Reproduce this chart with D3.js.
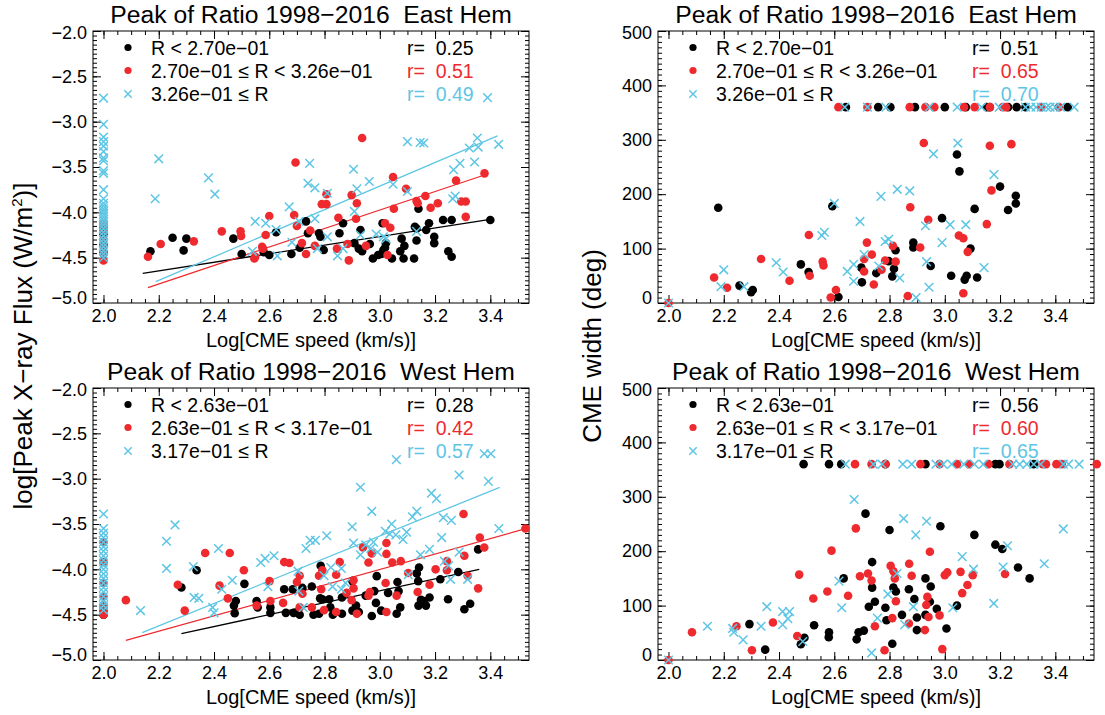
<!DOCTYPE html>
<html>
<head>
<meta charset="utf-8">
<script src="https://cdn.jsdelivr.net/npm/d3@7"></script>
<style>
  body { margin: 0; background: #fff; }
  text { font-family: "Liberation Sans", Arial, sans-serif; }
</style>
</head>
<body>
<div id="chart"></div>
<script>
// ---- data ----
var xTicks = [2.0, 2.2, 2.4, 2.6, 2.8, 3.0, 3.2, 3.4];
var fluxTicks = [-5.0, -4.5, -4.0, -3.5, -3.0, -2.5, -2.0];
var widthTicks = [0, 100, 200, 300, 400, 500];

var titles = ["Peak of Ratio 1998\u22122016  East Hem", "Peak of Ratio 1998\u22122016  West Hem"];
var eastLegend = ["R < 2.70e\u221201", "2.70e\u221201 \u2264 R < 3.26e\u221201", "3.26e\u221201 \u2264 R"];
var westLegend = ["R < 2.63e\u221201", "2.63e\u221201 \u2264 R < 3.17e\u221201", "3.17e\u221201 \u2264 R"];
var eastFluxR = ["0.25", "0.51", "0.49"];
var eastWidthR = ["0.51", "0.65", "0.70"];
var westFluxR = ["0.28", "0.42", "0.57"];
var westWidthR = ["0.56", "0.60", "0.65"];

// East hemisphere: log speed vs log peak flux
var eastFluxLow = [[2.0,-4.15],[2.0,-4.25],[2.0,-4.35],[2.0,-4.45],
  [2.17,-4.43],[2.25,-4.28],[2.29,-4.42],[2.30,-4.29],[2.47,-4.29],[2.50,-4.46],[2.58,-4.44],[2.60,-4.47],
  [2.625,-4.22],[2.68,-4.46],[2.71,-4.39],[2.733,-4.10],[2.74,-4.23],[2.78,-4.23],[2.785,-4.27],[2.797,-4.415],
  [2.854,-4.23],[2.867,-4.12],[2.908,-4.34],[2.924,-4.40],[2.93,-4.195],[2.936,-4.43],[2.964,-4.35],[2.975,-4.51],
  [2.994,-4.47],[3.006,-4.46],[3.013,-4.415],[3.019,-4.39],[3.022,-4.34],[3.01,-4.12],[3.044,-4.51],[3.074,-4.43],
  [3.079,-4.29],[3.089,-4.37],[3.086,-4.51],[3.124,-4.51],[3.133,-4.18],[3.133,-4.31],[3.14,-3.96],[3.127,-4.16],
  [3.168,-4.195],[3.178,-4.12],[3.197,-4.27],[3.197,-4.34],[3.229,-4.085],[3.248,-4.43],[3.26,-4.49],[3.26,-4.085],
  [3.40,-4.085]];
var eastFluxMid = [[2.0,-4.12],[2.0,-4.2],[2.0,-4.3],[2.0,-4.38],[2.0,-4.45],[2.0,-4.53],
  [2.161,-4.49],[2.207,-4.35],[2.327,-4.32],[2.428,-4.21],[2.496,-4.21],[2.498,-4.26],[2.549,-4.49],[2.546,-4.51],
  [2.574,-4.38],[2.577,-4.40],[2.587,-4.25],[2.60,-4.04],[2.69,-4.03],[2.70,-4.15],[2.718,-4.34],[2.733,-4.46],
  [2.748,-4.20],[2.765,-4.37],[2.79,-3.91],[2.807,-3.91],[2.807,-3.80],[2.845,-4.40],[2.85,-4.06],[2.883,-4.35],
  [2.888,-4.53],[2.898,-3.81],[2.917,-3.90],[2.914,-4.07],[2.95,-4.37],[3.019,-4.12],[3.028,-4.47],[3.048,-3.61],
  [3.051,-3.96],[3.038,-4.17],[3.095,-3.74],[3.133,-3.875],[3.137,-3.90],[3.165,-3.82],[3.184,-3.95],[3.21,-3.90],
  [3.276,-3.65],[3.295,-3.88],[3.311,-3.88],[3.311,-4.05],[3.379,-3.57],[2.695,-3.45],[2.936,-3.18]];
var eastFluxHigh = [[2.0,-2.74],[2.0,-3.03],[2.0,-3.17],[2.0,-3.22],[2.0,-3.27],[2.0,-3.33],[2.0,-3.40],[2.0,-3.43],
  [2.0,-3.54],[2.0,-3.57],[2.0,-3.75],[2.0,-3.85],[2.0,-3.90],[2.0,-3.93],[2.0,-3.96],[2.0,-3.99],[2.0,-4.02],
  [2.0,-4.05],[2.0,-4.08],[2.0,-4.11],[2.0,-4.14],[2.0,-4.18],[2.0,-4.22],[2.0,-4.26],[2.0,-4.30],[2.0,-4.34],
  [2.0,-4.38],[2.0,-4.42],[2.0,-4.46],[2.0,-4.50],
  [2.20,-3.41],[2.38,-3.62],[2.746,-3.46],[2.905,-3.525],[3.10,-3.22],[3.146,-3.23],[3.159,-3.235],[3.267,-3.53],
  [3.29,-3.46],[3.324,-3.29],[3.353,-3.18],[3.356,-3.28],[3.343,-3.445],[3.39,-2.735],[3.43,-3.25],[2.187,-3.85],
  [2.403,-3.80],[2.549,-4.10],[2.539,-4.43],[2.587,-4.12],[2.625,-4.19],[2.629,-4.48],[2.672,-3.94],[2.682,-4.33],
  [2.708,-4.10],[2.74,-3.68],[2.765,-3.73],[2.765,-4.07],[2.774,-4.40],[2.81,-3.79],[2.81,-4.27],[2.847,-4.48],
  [2.867,-4.40],[2.908,-3.99],[2.917,-3.74],[2.93,-4.25],[2.962,-3.66],[2.987,-4.24],[3.013,-4.27],[3.023,-4.29],
  [3.048,-3.69],[3.10,-3.77],[3.133,-4.21],[3.264,-3.85],[3.273,-3.82]];
// fitted lines: [x1, y1, x2, y2] for low, mid, high
var eastFluxFits = [[2.142,-4.673,3.40,-4.077],[2.161,-4.83,3.387,-3.58],[2.189,-4.765,3.426,-3.156]];

// East hemisphere: log speed vs CME width
var eastWidthLow = [[2.642,360],[2.759,360],[2.803,360],[2.892,360],[3.0,360],[3.076,360],[3.152,360],[3.163,360],
  [3.229,360],[3.26,360],[3.292,360],[3.445,360],
  [3.044,273],[3.053,242],[2.18,175],[2.593,178],[3.20,214],[3.257,197],[3.257,183],[3.229,171],[3.108,173],
  [2.99,156],[2.886,102],[2.886,111],[2.822,97],[2.797,77],[2.816,63],[2.81,49],[2.752,55],[2.698,65],[2.70,38],
  [2.615,11],[2.479,71],[2.507,57],[2.257,32],[2.299,20],[2.305,24],[2.949,68],[3.023,50],[3.072,43],[3.079,50],
  [3.117,47],[3.093,100]];
var eastWidthMid = [[2.615,360],[2.72,360],[2.873,360],[2.93,360],[2.962,360],[3.07,360],[3.108,360],[3.163,360],
  [3.21,360],[3.222,360],[3.349,360],[3.413,360],
  [2.924,294],[3.163,289],[3.241,292],[2.0,0],[2.165,47],[2.212,28],[2.335,81],[2.438,41],[2.508,125],[2.511,50],
  [2.558,76],[2.561,69],[2.587,10],[2.606,24],[2.708,81],[2.708,58],[2.736,89],[2.718,111],[2.743,34],[2.771,61],
  [2.784,78],[2.812,105],[2.822,76],[2.866,13],[2.875,176],[2.911,102],[2.94,153],[3.051,124],[3.067,119],
  [3.067,18],[3.083,94],[3.152,145],[3.169,207]];
var eastWidthHigh = [[2.638,360],[2.72,360],[2.787,360],[2.943,360],[3.045,360],[3.133,360],[3.197,360],[3.292,360],
  [3.311,360],[3.33,360],[3.349,360],[3.368,360],[3.381,360],[3.40,360],[3.419,360],[3.468,360],
  [2.959,274],[3.047,294],[3.178,236],[2.0,0],[2.20,61],[2.19,30],[2.273,30],[2.39,74],[2.415,57],[2.555,124],
  [2.564,130],[2.60,183],[2.647,58],[2.67,71],[2.67,40],[2.693,150],[2.708,89],[2.769,196],[2.761,68],[2.784,113],
  [2.797,117],[2.828,209],[2.837,46],[2.873,206],[2.896,10],[2.93,142],[2.934,76],[2.943,29],[2.99,111],
  [3.019,144],[3.076,144],[3.142,65]];

// West hemisphere: log speed vs log peak flux
var westFluxLow = [[2.0,-4.4],[2.0,-4.45],[2.0,-4.5],
  [2.282,-4.20],[2.337,-4.01],[2.479,-4.35],[2.472,-4.40],[2.475,-4.485],[2.51,-4.16],[2.554,-4.35],[2.558,-4.42],
  [2.604,-4.42],[2.604,-4.48],[2.654,-4.22],[2.66,-4.48],[2.685,-4.22],[2.688,-4.48],[2.71,-4.50],[2.72,-4.205],
  [2.754,-4.19],[2.76,-4.50],[2.78,-4.49],[2.784,-4.32],[2.786,-3.96],[2.792,-4.33],[2.817,-4.33],[2.821,-4.42],
  [2.83,-4.50],[2.863,-4.31],[2.863,-4.49],[2.901,-4.13],[2.901,-4.455],[2.914,-4.40],[2.924,-4.47],[2.949,-4.29],
  [2.971,-4.515],[2.98,-4.24],[2.989,-4.075],[2.986,-4.37],[3.005,-4.455],[3.03,-4.26],[3.064,-4.14],[3.068,-4.24],
  [3.061,-4.49],[3.074,-4.42],[3.134,-4.045],[3.142,-3.98],[3.139,-4.13],[3.14,-4.40],[3.149,-4.335],[3.159,-4.35],
  [3.167,-4.40],[3.18,-4.31],[3.219,-4.11],[3.247,-4.33],[3.284,-4.03],[3.306,-4.44],[3.327,-4.38],[3.356,-3.78]];
var westFluxMid = [[2.0,-3.7],[2.0,-3.92],[2.0,-4.15],[2.0,-4.3],[2.0,-4.4],[2.0,-4.45],[2.0,-4.5],
  [2.081,-4.34],[2.269,-4.17],[2.294,-4.455],[2.368,-3.82],[2.457,-3.82],[2.45,-4.32],[2.42,-4.18],[2.508,-4.01],
  [2.554,-4.40],[2.604,-4.35],[2.601,-4.13],[2.65,-4.37],[2.654,-3.92],[2.673,-3.93],[2.70,-4.14],[2.71,-4.07],
  [2.71,-4.42],[2.72,-4.27],[2.754,-4.42],[2.78,-4.07],[2.788,-4.22],[2.792,-4.01],[2.798,-4.45],[2.842,-4.47],
  [2.842,-4.06],[2.855,-3.92],[2.88,-4.26],[2.898,-4.34],[2.905,-4.12],[2.905,-4.21],[2.917,-4.49],[2.939,-3.76],
  [2.959,-4.29],[2.964,-4.25],[2.959,-3.925],[2.971,-3.825],[3.024,-3.71],[3.024,-3.83],[3.021,-4.15],[3.024,-4.47],
  [3.045,-3.925],[3.061,-4.29],[3.076,-3.91],[3.103,-4.04],[3.137,-4.25],[3.18,-4.17],[3.202,-4.0],[3.243,-3.91],
  [3.243,-4.01],[3.306,-3.85],[3.318,-4.07],[3.356,-4.21],[3.362,-3.65],[3.378,-3.76],[3.527,-3.55],[3.303,-3.39]];
var westFluxHigh = [[2.0,-3.39],[2.0,-3.55],[2.0,-3.6],[2.0,-3.65],[2.0,-3.7],[2.0,-3.75],[2.0,-3.8],[2.0,-3.85],
  [2.0,-3.9],[2.0,-3.95],[2.0,-4.0],[2.0,-4.05],[2.0,-4.1],[2.0,-4.15],[2.0,-4.2],[2.0,-4.25],[2.0,-4.3],[2.0,-4.35],
  [2.0,-4.4],[2.0,-4.45],
  [2.259,-3.51],[2.93,-3.095],[2.971,-3.36],[2.90,-3.53],[3.06,-2.79],[3.043,-3.50],[3.118,-3.42],[3.134,-3.36],
  [3.187,-3.16],[3.205,-3.22],[3.23,-3.43],[3.259,-3.46],[3.287,-2.96],[3.378,-2.725],[3.402,-2.725],[3.393,-3.03],
  [3.431,-3.55],[3.02,-3.58],[2.228,-3.69],[2.228,-3.99],[2.134,-4.455],[2.325,-3.97],[2.328,-4.31],[2.345,-4.32],
  [2.395,-4.42],[2.40,-4.48],[2.416,-3.77],[2.428,-4.22],[2.466,-4.12],[2.569,-3.925],[2.585,-3.88],[2.617,-3.85],
  [2.595,-4.19],[2.704,-4.02],[2.707,-4.24],[2.723,-4.42],[2.733,-3.77],[2.748,-3.68],[2.767,-3.68],[2.808,-3.63],
  [2.798,-4.07],[2.823,-3.98],[2.829,-4.19],[2.861,-3.99],[2.876,-4.15],[2.861,-4.22],[2.905,-3.71],[2.93,-3.84],
  [2.949,-3.73],[2.967,-3.77],[2.977,-3.70],[2.992,-3.81],[3.036,-3.61],[3.058,-3.62],[3.084,-3.67],[3.097,-3.59],
  [3.103,-4.06],[3.147,-3.84],[3.18,-3.78],[3.224,-3.65],[3.234,-3.91],[3.249,-3.96],[3.256,-4.11],[3.287,-3.81],
  [3.318,-4.11]];
var westFluxFits = [[2.282,-4.709,3.36,-4.0],[2.081,-4.784,3.528,-3.552],[2.14,-4.698,3.434,-3.095]];

// West hemisphere: log speed vs CME width
var westWidthLow = [[2.489,360],[2.581,360],[2.625,360],[2.785,360],[2.93,360],[3.183,360],[3.198,360],[3.322,360],
  [2.713,269],[2.80,239],[2.984,246],[3.107,230],[2.293,66],[2.35,19],[2.479,29],[2.492,41],[2.527,64],[2.58,42],
  [2.581,51],[2.634,150],[2.681,38],[2.688,51],[2.707,54],[2.725,98],[2.737,180],[2.737,133],[2.747,107],[2.785,96],
  [2.789,73],[2.81,30],[2.814,133],[2.823,126],[2.845,83],[2.87,130],[2.89,112],[2.899,78],[2.899,55],[2.93,83],
  [2.93,150],[2.946,107],[2.949,135],[2.971,94],[3.006,58],[3.044,100],[3.183,212],[3.208,204],[3.265,170],
  [3.307,150]];
var westWidthMid = [[2.675,360],[2.735,360],[2.785,360],[2.912,360],[2.981,360],[3.044,360],[3.088,360],[3.158,360],
  [3.234,360],[3.354,360],[3.366,360],[3.404,360],[3.423,360],[3.55,360],
  [2.678,242],[2.0,0],[2.085,51],[2.246,62],[2.302,18],[2.378,69],[2.466,44],[2.473,157],[2.524,113],[2.575,126],
  [2.59,201],[2.65,118],[2.693,154],[2.722,159],[2.735,146],[2.747,62],[2.782,18],[2.804,173],[2.814,163],
  [2.819,150],[2.823,108],[2.81,77],[2.87,67],[2.871,177],[2.88,155],[2.928,55],[2.937,116],[2.933,101],[2.941,79],
  [2.946,199],[2.981,82],[2.991,20],[3.0,156],[3.009,161],[3.057,162],[3.063,123],[3.082,138],[3.101,156],
  [3.218,158]];
var westWidthHigh = [[2.64,360],[2.741,360],[2.773,360],[2.848,360],[2.88,360],[2.968,360],[2.994,360],[3.025,360],
  [3.069,360],[3.107,360],[3.139,360],[3.246,360],[3.271,360],[3.297,360],[3.322,360],[3.347,360],[3.429,360],
  [3.448,360],[3.486,360],
  [2.672,295],[2.851,260],[2.934,255],[2.895,230],[3.429,241],[2.0,0],[2.141,62],[2.232,58],[2.236,51],[2.27,37],
  [2.335,62],[2.356,98],[2.413,65],[2.413,89],[2.432,76],[2.438,89],[2.486,34],[2.617,145],[2.627,96],[2.735,13],
  [2.756,77],[2.794,121],[2.827,159],[2.855,65],[2.886,98],[3.029,96],[3.063,190],[3.104,167],[3.177,104],
  [3.211,171],[3.227,210],[3.36,177]];

// ---- layout ----
var W = 1105, H = 715;
var pw = 436, ph = 272;
var xRange = [1.962, 3.54];
var colors = ["#000000", "#ee2a2e", "#5ec6e4"];
var font = "Liberation Sans, Arial, sans-serif";

var svg = d3.select("#chart").append("svg")
    .attr("width", W)
    .attr("height", H);

var fluxMinor = d3.range(-100, -39).map(function(d) { return d / 20; });
var widthMinor = d3.range(0, 501, 10);

var panels = [
  {left: 93, top: 31, yRange: [-5.0, -2.0], yTicks: fluxTicks, yMinor: fluxMinor,
   fmt: d3.format(".1f"), title: titles[0], legend: eastLegend, r: eastFluxR,
   series: [eastFluxLow, eastFluxMid, eastFluxHigh], fits: eastFluxFits},
  {left: 658, top: 31, yRange: [0, 500], yTicks: widthTicks, yMinor: widthMinor,
   fmt: d3.format("d"), title: titles[0], legend: eastLegend, r: eastWidthR,
   series: [eastWidthLow, eastWidthMid, eastWidthHigh], fits: null},
  {left: 93, top: 388, yRange: [-5.0, -2.0], yTicks: fluxTicks, yMinor: fluxMinor,
   fmt: d3.format(".1f"), title: titles[1], legend: westLegend, r: westFluxR,
   series: [westFluxLow, westFluxMid, westFluxHigh], fits: westFluxFits},
  {left: 658, top: 388, yRange: [0, 500], yTicks: widthTicks, yMinor: widthMinor,
   fmt: d3.format("d"), title: titles[1], legend: westLegend, r: westWidthR,
   series: [westWidthLow, westWidthMid, westWidthHigh], fits: null}
];

var xMinor = d3.range(40, 71).map(function(d) { return d / 20; });

function drawCross(sel, size) {
  sel.append("path")
      .attr("d", "M" + (-size) + "," + (-size) + "L" + size + "," + size +
                 "M" + (-size) + "," + size + "L" + size + "," + (-size))
      .attr("stroke", colors[2])
      .attr("stroke-width", 1.5)
      .attr("fill", "none");
}

function drawPanel(p) {
  var x = d3.scaleLinear().domain(xRange).range([p.left, p.left + pw]);
  var y = d3.scaleLinear().domain(p.yRange).range([p.top + ph, p.top]);
  var g = svg.append("g");
  var bottom = p.top + ph, right = p.left + pw;

  // minor ticks on all four sides
  var minorAxes = [
    [d3.axisBottom(x).tickValues(xMinor), "translate(0," + bottom + ")"],
    [d3.axisTop(x).tickValues(xMinor), "translate(0," + p.top + ")"],
    [d3.axisLeft(y).tickValues(p.yMinor), "translate(" + p.left + ",0)"],
    [d3.axisRight(y).tickValues(p.yMinor), "translate(" + right + ",0)"]
  ];
  minorAxes.forEach(function(a) {
    g.append("g").attr("transform", a[1])
        .call(a[0].tickSize(-4).tickSizeOuter(0).tickFormat(""))
        .call(function(s) { s.select(".domain").remove(); });
  });

  // major ticks, labelled on bottom and left
  g.append("g").attr("transform", "translate(0," + bottom + ")")
      .call(d3.axisBottom(x).tickValues(xTicks).tickSize(-8).tickSizeOuter(0).tickPadding(6).tickFormat(d3.format(".1f")))
      .attr("font-size", 18).attr("font-family", font)
      .call(function(s) { s.select(".domain").remove(); });
  g.append("g").attr("transform", "translate(0," + p.top + ")")
      .call(d3.axisTop(x).tickValues(xTicks).tickSize(-8).tickSizeOuter(0).tickFormat(""))
      .call(function(s) { s.select(".domain").remove(); });
  var yAx = g.append("g").attr("transform", "translate(" + p.left + ",0)")
      .call(d3.axisLeft(y).tickValues(p.yTicks).tickSize(-8).tickSizeOuter(0).tickPadding(6).tickFormat(p.fmt))
      .attr("font-size", 18).attr("font-family", font)
      .call(function(s) { s.select(".domain").remove(); });
  yAx.selectAll(".tick text")
      .attr("y", function(d) { return d === p.yRange[0] ? -5 : (d === p.yRange[1] ? 2 : 0); });
  g.append("g").attr("transform", "translate(" + right + ",0)")
      .call(d3.axisRight(y).tickValues(p.yTicks).tickSize(-8).tickSizeOuter(0).tickFormat(""))
      .call(function(s) { s.select(".domain").remove(); });

  // frame
  g.append("rect")
      .attr("x", p.left).attr("y", p.top)
      .attr("width", pw).attr("height", ph)
      .attr("fill", "none").attr("stroke", "#000").attr("stroke-width", 1);

  // fitted lines
  if (p.fits) {
    g.selectAll(".fit")
        .data(p.fits)
        .enter()
        .append("line")
        .attr("x1", function(d) { return x(d[0]); })
        .attr("y1", function(d) { return y(d[1]); })
        .attr("x2", function(d) { return x(d[2]); })
        .attr("y2", function(d) { return y(d[3]); })
        .attr("stroke", function(d, i) { return colors[i]; })
        .attr("stroke-width", 1.3);
  }

  // points: black and red dots, cyan crosses on top
  [0, 1].forEach(function(k) {
    g.append("g").selectAll("circle")
        .data(p.series[k])
        .enter()
        .append("circle")
        .attr("cx", function(d) { return x(d[0]); })
        .attr("cy", function(d) { return y(d[1]); })
        .attr("r", 4.3)
        .attr("fill", colors[k]);
  });
  g.append("g").selectAll("g")
      .data(p.series[2])
      .enter()
      .append("g")
      .attr("transform", function(d) { return "translate(" + x(d[0]) + "," + y(d[1]) + ")"; })
      .call(drawCross, 4.3);

  // legend
  var rows = [p.top + 16.5, p.top + 39.5, p.top + 63];
  rows.forEach(function(ry, i) {
    if (i < 2) {
      g.append("circle").attr("cx", p.left + 35).attr("cy", ry).attr("r", 3.6).attr("fill", colors[i]);
    } else {
      g.append("g").attr("transform", "translate(" + (p.left + 35) + "," + ry + ")").call(drawCross, 3.7);
    }
    g.append("text")
        .attr("x", p.left + 58).attr("y", ry).attr("dy", "0.36em")
        .attr("font-size", 19.5).attr("fill", "#000")
        .text(p.legend[i]);
    g.append("text")
        .attr("x", p.left + 314).attr("y", ry).attr("dy", "0.36em")
        .attr("font-size", 19.5).attr("fill", colors[i])
        .style("white-space", "pre")
        .text("r=  " + p.r[i]);
  });

  // title
  g.append("text")
      .attr("x", p.left + pw / 2).attr("y", p.top - 8)
      .attr("text-anchor", "middle")
      .attr("font-size", 24.7)
      .style("white-space", "pre")
      .text(p.title);

  // x axis label
  g.append("text")
      .attr("x", p.left + pw / 2).attr("y", bottom + 44)
      .attr("text-anchor", "middle")
      .attr("font-size", 20)
      .text("Log[CME speed (km/s)]");
}

panels.forEach(drawPanel);

// y axis labels shared by each column
var yl = svg.append("text")
    .attr("transform", "translate(32,346) rotate(-90)")
    .attr("text-anchor", "middle")
    .attr("font-size", 26);
yl.append("tspan").text("log[Peak X\u2212ray Flux (W/m");
yl.append("tspan").attr("dy", -10).attr("font-size", 15).text("2");
yl.append("tspan").attr("dy", 10).text(")]");

svg.append("text")
    .attr("transform", "translate(601,346) rotate(-90)")
    .attr("text-anchor", "middle")
    .attr("font-size", 26)
    .text("CME width (deg)");
</script>
</body>
</html>
